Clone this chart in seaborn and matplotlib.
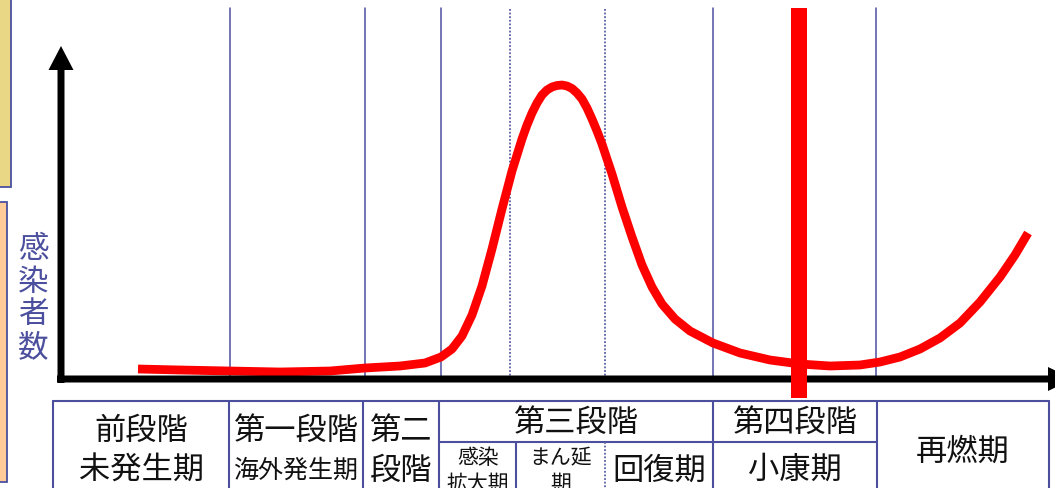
import matplotlib
matplotlib.use("Agg")
import matplotlib.pyplot as plt
from matplotlib.patches import Rectangle, FancyArrow
import seaborn as sns
import pandas as pd

# Epidemic curve: time position and number of infected people
time = [138, 180, 230, 280, 330, 365, 400, 425, 441, 452, 462, 472, 482, 492,
        502, 512, 522, 527, 532, 537, 542, 547, 552, 557, 562, 567, 572, 577,
        582, 587, 592, 597, 602, 612, 622, 632, 642, 652, 662, 675, 690, 713,
        740, 770, 800, 830, 860, 880, 900, 920, 940, 960, 980, 1000, 1015, 1028]
infected = [10, 9, 8, 7, 8, 11, 13, 16, 22, 30, 43, 64, 93, 130,
            170, 208, 240, 254, 266, 276, 284, 289, 292, 293.5, 294, 293, 290.5, 286,
            280, 271, 260, 248, 235, 205, 172, 142, 114, 92, 75, 60, 48, 36,
            26, 19, 15, 13, 14, 17, 22, 30, 41, 56, 77, 102, 124, 146]

# Phase boundaries along the time axis
phase_lines = [230, 365, 441, 713, 876]
sub_phase_lines = [510, 605]
current_time = 799

# Phase table: (label, x-center, y-center, fontsize)
phase_labels = [
    ("前段階", 141, 431, 22.5), ("未発生期", 141, 471, 22.5),
    ("第一段階", 296, 431, 22.5), ("海外発生期", 296, 471, 18),
    ("第二", 401, 431, 22.5), ("段階", 401, 471, 22.5),
    ("第三段階", 576, 423, 22.5),
    ("感染", 478, 458, 15), ("拡大期", 478, 484, 15),
    ("まん延", 561, 458, 15), ("期", 561, 484, 15),
    ("回復期", 659, 471, 22.5),
    ("第四段階", 795, 423, 22.5), ("小康期", 795, 470, 22.5),
    ("再燃期", 963, 452, 22.5),
]
ylabel_chars = ["感", "染", "者", "数"]

sns.set_theme(style="white")
plt.rcParams["font.family"] = ["Noto Sans CJK JP", "DejaVu Sans"]

W, H = 1055, 489
BASE = 380  # pixel row of the time axis


def Y(py):
    return BASE - py


fig = plt.figure(figsize=(W / 100, H / 100), dpi=100)
ax = fig.add_axes([0, 0, 1, 1])
ax.set_xlim(0, W)
ax.set_ylim(Y(H), Y(0))
ax.axis("off")

navy = "#4B4F9E"

# side panels
ax.add_patch(Rectangle((-5, Y(188)), 16, 193, facecolor="#EAD785",
                       edgecolor=navy, lw=1.3))
ax.add_patch(Rectangle((-5, Y(483)), 12, 280, facecolor="#FFCC99",
                       edgecolor=navy, lw=1.3))

# phase boundaries in the chart
for x in phase_lines:
    ax.plot([x, x], [Y(9), Y(378)], color=navy, lw=1.1, zorder=1)
for x in sub_phase_lines:
    ax.plot([x, x], [Y(10), Y(378)], color="#5A5FA2", lw=1.3,
            ls=(0, (1, 1)), zorder=1)

# infection curve
df = pd.DataFrame({"time": time, "infected": infected})
sns.lineplot(data=df, x="time", y="infected", sort=False, estimator=None,
             color="#FF0000", lw=6.3, ax=ax, zorder=3,
             solid_capstyle="butt", solid_joinstyle="round")

# axes with arrowheads
ax.add_patch(FancyArrow(61, Y(384), 0, Y(47) - Y(384), width=7,
                        head_width=25, head_length=24,
                        length_includes_head=True, color="black", lw=0,
                        zorder=4))
ax.add_patch(FancyArrow(57, Y(380), 1073 - 57, 0, width=7,
                        head_width=24, head_length=25,
                        length_includes_head=True, color="black", lw=0,
                        zorder=4))

# current position marker
ax.add_patch(Rectangle((current_time - 8, Y(399)), 16, 390,
                       facecolor="#FF0000", edgecolor="none", zorder=5))

# y label
for i, ch in enumerate(ylabel_chars):
    ax.text(33, Y(250 + i * 32.5), ch, color=navy, fontsize=22,
            ha="center", va="center")

# phase table grid
tb_top, tb_mid, tb_bot = 402, 443, 495
for x in [53, 229, 363, 439, 713, 877, 1049]:
    ax.plot([x, x], [Y(tb_top), Y(tb_bot)], color=navy, lw=1.5, zorder=2)
ax.plot([53, 1049], [Y(tb_top), Y(tb_top)], color=navy, lw=1.5, zorder=2)
ax.plot([439, 877], [Y(tb_mid), Y(tb_mid)], color=navy, lw=1.5, zorder=2)
ax.plot([516, 516], [Y(tb_mid), Y(tb_bot)], color=navy, lw=1.5, zorder=2)
ax.plot([605, 605], [Y(tb_mid), Y(tb_bot)], color="#5A5FA2", lw=1.3,
        ls=(0, (1, 1)), zorder=2)

for label, x, y, fs in phase_labels:
    ax.text(x, Y(y), label, fontsize=fs, color="#111111",
            ha="center", va="center")

fig.savefig("out.png", dpi=100)
